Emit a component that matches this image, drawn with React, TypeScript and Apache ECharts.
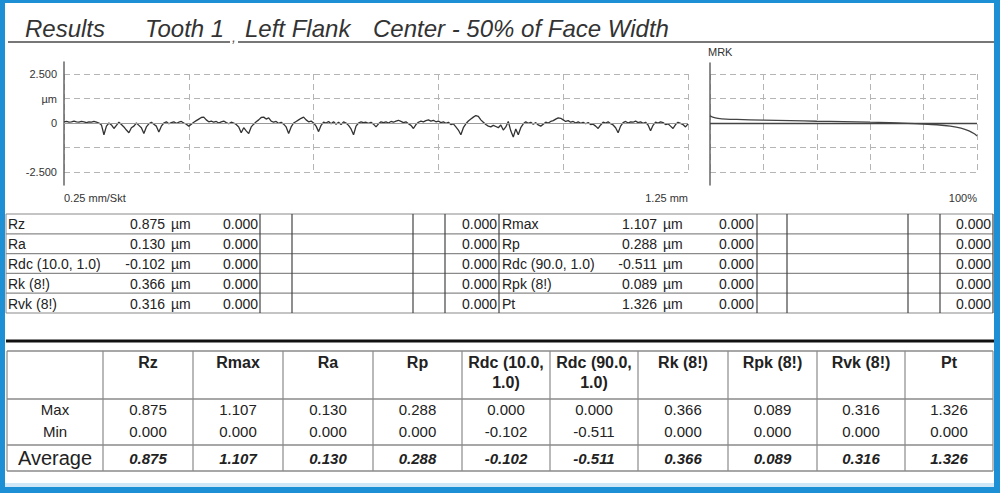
import React, { useEffect, useRef } from "react";
import * as echarts from "echarts";

const FONT = "'Liberation Sans', Arial, sans-serif";

// ---------- Title ----------
const titleParts = ["Results", "Tooth 1", "Left Flank", "Center - 50% of Face Width"];

// ---------- Profile (roughness) ----------
const profileStepMm = 0.005;
const profileUm = [
  0.06, 0.08, 0.04, 0.06, 0.1, 0.06, 0.04, 0.08, 0.06, 0.02, 0.06, 0.04, 0.08, 0.04, 0.0,
  -0.1, -0.6, -0.16, 0.0, -0.1, -0.28, -0.12, 0.04, -0.08, -0.2, -0.36, -0.5, -0.24, -0.16, 0.0,
  -0.12, -0.24, -0.54, -0.2, -0.04, 0.04, -0.06, -0.16, -0.46, -0.16, 0.0, 0.06, -0.04, 0.02, 0.06,
  -0.02, 0.04, 0.08, 0.0, -0.06, -0.16, -0.06, 0.04, 0.12, 0.2, 0.28, 0.3, 0.16, 0.06, 0.1,
  0.04, 0.08, 0.0, 0.06, 0.1, 0.02, -0.04, 0.04, 0.0, -0.08, -0.2, -0.5, -0.24, -0.4, -0.54,
  -0.2, -0.06, 0.06, 0.16, 0.28, 0.3, 0.2, 0.26, 0.1, 0.04, 0.08, -0.02, 0.04, -0.06, -0.2,
  -0.54, -0.2, 0.0, 0.08, 0.16, 0.24, 0.3, 0.16, 0.06, 0.1, 0.0, -0.16, -0.44, -0.12, 0.04,
  0.0, 0.08, -0.04, 0.06, -0.06, 0.04, -0.08, 0.06, 0.0, -0.12, -0.3, -0.6, -0.16, 0.0, 0.06,
  0.02, 0.04, -0.02, 0.04, -0.06, -0.2, -0.04, 0.06, 0.02, 0.06, 0.0, 0.08, 0.04, 0.1, 0.14,
  0.08, 0.02, 0.06, -0.04, -0.12, -0.28, -0.08, 0.04, 0.1, 0.06, 0.12, 0.16, 0.1, 0.14, 0.06,
  0.1, 0.02, 0.06, -0.02, 0.04, -0.08, -0.04, -0.2, -0.36, -0.6, -0.24, -0.04, 0.1, 0.2, 0.3,
  0.38, 0.34, 0.16, 0.04, -0.08, -0.16, -0.2, -0.12, -0.18, -0.24, -0.1, -0.36, -0.2, 0.08, -0.4,
  -0.72, -0.3, -0.6, -0.24, -0.04, 0.06, -0.02, 0.04, -0.06, 0.02, -0.1, -0.16, -0.06, 0.04, 0.0,
  0.08, 0.12, 0.2, 0.26, 0.24, 0.16, 0.08, 0.12, 0.04, 0.08, 0.0, 0.06, -0.02, 0.04, -0.04,
  0.02, -0.08, -0.06, -0.16, -0.28, -0.1, 0.04, 0.0, 0.06, -0.04, -0.1, -0.24, -0.5, -0.16, 0.02,
  0.08, 0.0, 0.06, 0.04, 0.1, 0.02, 0.06, -0.02, 0.04, -0.1, -0.4, -0.12, 0.04, 0.0, 0.06,
  0.02, -0.08, -0.04, -0.16, -0.28, -0.08, 0.04, -0.02, -0.08, -0.2, -0.04,
];
const profileYTickValues = [-2.5, -1.25, 0, 1.25, 2.5];
const profileYTickLabels = ["-2.500", "", "0", "µm", "2.500"];
const profileXTickValues = [0, 1.25];
const profileXTickLabels = ["0.25 mm/Skt", "1.25 mm"];

// ---------- MRK (material ratio curve) ----------
const mrkRatio = [0, 1, 3, 6, 10, 20, 30, 40, 50, 60, 70, 80, 85, 90, 94, 97, 99, 100];
const mrkHeight = [0.36, 0.3, 0.24, 0.2, 0.18, 0.15, 0.12, 0.09, 0.07, 0.04, 0.01, -0.05, -0.09, -0.16, -0.26, -0.4, -0.55, -0.66];
const mrkXTickValues = [100];
const mrkXTickLabels = ["100%"];

// ---------- Upper results table ----------
const unitLabel = "µm";
const leftParams = ["Rz", "Ra", "Rdc (10.0, 1.0)", "Rk (8!)", "Rvk (8!)"];
const leftValues = [0.875, 0.13, -0.102, 0.366, 0.316];
const leftTolA = [0, 0, 0, 0, 0];
const leftTolB = [0, 0, 0, 0, 0];
const rightParams = ["Rmax", "Rp", "Rdc (90.0, 1.0)", "Rpk (8!)", "Pt"];
const rightValues = [1.107, 0.288, -0.511, 0.089, 1.326];
const rightTolA = [0, 0, 0, 0, 0];
const rightTolB = [0, 0, 0, 0, 0];

// ---------- Summary table ----------
const summaryHeaders = ["Rz", "Rmax", "Ra", "Rp", "Rdc (10.0,\n1.0)", "Rdc (90.0,\n1.0)", "Rk (8!)", "Rpk (8!)", "Rvk (8!)", "Pt"];
const summaryRowLabels = ["Max", "Min", "Average"];
const summaryMax = [0.875, 1.107, 0.13, 0.288, 0.0, 0.0, 0.366, 0.089, 0.316, 1.326];
const summaryMin = [0.0, 0.0, 0.0, 0.0, -0.102, -0.511, 0.0, 0.0, 0.0, 0.0];
const summaryAvg = [0.875, 1.107, 0.13, 0.288, -0.102, -0.511, 0.366, 0.089, 0.316, 1.326];

const fmt = (v: number) => v.toFixed(3);

function labelFrom(values: number[], labels: string[]) {
  return (v: number) => {
    const i = values.findIndex((t) => Math.abs(t - v) < 1e-9);
    return i >= 0 ? labels[i] : "";
  };
}

function line(x1: number, y1: number, x2: number, y2: number, stroke: string, lineWidth: number) {
  return { type: "line", silent: true, shape: { x1, y1, x2, y2 }, style: { stroke, lineWidth } };
}
function text(x: number, y: number, t: string, font: string, align = "left", verticalAlign = "middle", fill = "#222", extra: any = {}) {
  return { type: "text", silent: true, x, y, style: { text: t, font, fill, align, verticalAlign, ...extra } };
}

function buildGraphic() {
  const g: any[] = [];
  // border
  const blue = "#1d8fd5";
  g.push({ type: "rect", silent: true, shape: { x: 0, y: 0, width: 5, height: 493 }, style: { fill: blue } });
  g.push({ type: "rect", silent: true, shape: { x: 994, y: 0, width: 6, height: 493 }, style: { fill: blue } });
  g.push({ type: "rect", silent: true, shape: { x: 0, y: 0, width: 1000, height: 3 }, style: { fill: blue } });
  g.push({ type: "rect", silent: true, shape: { x: 0, y: 487, width: 1000, height: 6 }, style: { fill: blue } });
  g.push({ type: "rect", silent: true, shape: { x: 5, y: 483, width: 989, height: 4 }, style: { fill: "#cfe7f7" } });

  // title
  const titleX = [25, 145, 245, 373];
  const tFont = `italic 24px ${FONT}`;
  titleParts.forEach((p, i) => g.push(text(titleX[i], 28, p, tFont, "left", "middle", "#333")));
  g.push(text(232, 37, ",", `italic 14px ${FONT}`, "left", "middle", "#555"));
  g.push(line(8, 42, 230, 42, "#777", 2));
  g.push(line(238, 42, 994, 42, "#777", 2));

  // upper table
  const top = 214;
  const rh = 19.8;
  const f = `14px ${FONT}`;
  for (let k = 0; k <= 5; k++) g.push(line(6, top + k * rh, 993, top + k * rh, "#8a8a8a", 1.2));
  const halves = [
    { names: leftParams, vals: leftValues, ta: leftTolA, tb: leftTolB, nameX: 8, valR: 165, unitX: 171, taR: 258, tbR: 497, vx: [260, 292, 413, 445, 499] },
    { names: rightParams, vals: rightValues, ta: rightTolA, tb: rightTolB, nameX: 502, valR: 657, unitX: 663, taR: 754, tbR: 991, vx: [757, 787, 908, 940, 993] },
  ];
  g.push(line(6, top, 6, top + 5 * rh, "#8a8a8a", 1));
  halves.forEach((h) => {
    h.vx.forEach((x) => g.push(line(x, top, x, top + 5 * rh, "#444", 1.2)));
    h.names.forEach((n, r) => {
      const y = top + rh * r + rh / 2 + 0.5;
      g.push(text(h.nameX, y, n, f));
      g.push(text(h.valR, y, fmt(h.vals[r]), f, "right"));
      g.push(text(h.unitX, y, unitLabel, f));
      g.push(text(h.taR, y, fmt(h.ta[r]), f, "right"));
      g.push(text(h.tbR, y, fmt(h.tb[r]), f, "right"));
    });
  });

  // thick separator
  g.push(line(6, 341, 994, 341, "#111", 3));

  // summary table
  const colX = [7, 103, 193, 283, 373, 462, 550, 638, 728, 817, 905, 993];
  const hy = [351, 399, 445, 471];
  hy.forEach((y) => g.push(line(7, y, 993, y, "#8a8a8a", 1.5)));
  colX.forEach((x) => g.push(line(x, 351, x, 471, "#8a8a8a", 1.2)));
  const hf = `bold 16px ${FONT}`;
  summaryHeaders.forEach((h, i) => {
    const cx = (colX[i + 1] + colX[i + 2]) / 2;
    g.push(text(cx, 352, h, hf, "center", "top", "#222", { lineHeight: 20 }));
  });
  const lx = (colX[0] + colX[1]) / 2;
  const rowY = [409, 431, 458];
  g.push(text(lx, rowY[0], summaryRowLabels[0], `15px ${FONT}`, "center"));
  g.push(text(lx, rowY[1], summaryRowLabels[1], `15px ${FONT}`, "center"));
  g.push(text(lx, rowY[2], summaryRowLabels[2], `20px ${FONT}`, "center"));
  const rows = [summaryMax, summaryMin, summaryAvg];
  rows.forEach((vals, r) => {
    const font = r === 2 ? `italic bold 15px ${FONT}` : `15px ${FONT}`;
    vals.forEach((v, i) => {
      const cx = (colX[i + 1] + colX[i + 2]) / 2;
      g.push(text(cx, rowY[r], fmt(v), font, "center"));
    });
  });
  return g;
}

export default function App() {
  const ref = useRef<HTMLDivElement>(null);
  useEffect(() => {
    if (!ref.current) return;
    const chart = echarts.init(ref.current, undefined, { renderer: "svg" });
    const dash = { color: "#b5b5b5", type: [6, 4] as any, width: 1 };
    const axisLine = { show: true, lineStyle: { color: "#666", width: 1.5 } };
    const profileData = profileUm.map((v, i) => [i * profileStepMm, v]);
    const mrkData = mrkRatio.map((r, i) => [r, mrkHeight[i]]);
    const labelStyle = { color: "#333", fontSize: 11, fontFamily: FONT };
    chart.setOption({
      animation: false,
      backgroundColor: "#fff",
      grid: [
        { left: 64, top: 74, width: 624, height: 98 },
        { left: 64, top: 62, width: 624, height: 123 },
        { left: 710, top: 74, width: 267, height: 98 },
        { left: 710, top: 63, width: 267, height: 122 },
      ],
      xAxis: [
        {
          gridIndex: 0, type: "value", min: 0, max: 1.25, interval: 0.25,
          axisLine: { show: false }, axisTick: { show: false },
          splitLine: { show: true, lineStyle: dash },
          axisLabel: { ...labelStyle, margin: 20, formatter: labelFrom(profileXTickValues, profileXTickLabels), alignMinLabel: "left", alignMaxLabel: "right" },
        },
        { gridIndex: 1, type: "value", min: 0, max: 1.25, show: false },
        {
          gridIndex: 2, type: "value", min: 0, max: 100, interval: 20,
          axisLine: { show: false }, axisTick: { show: false },
          splitLine: { show: true, lineStyle: dash },
          axisLabel: { ...labelStyle, margin: 20, formatter: labelFrom(mrkXTickValues, mrkXTickLabels), alignMaxLabel: "right" },
        },
        { gridIndex: 3, type: "value", min: 0, max: 100, show: false },
      ],
      yAxis: [
        {
          gridIndex: 0, type: "value", min: -2.5, max: 2.5, interval: 1.25,
          axisLine: { show: false }, axisTick: { show: false },
          splitLine: { show: true, lineStyle: dash },
          axisLabel: { ...labelStyle, margin: 7, formatter: labelFrom(profileYTickValues, profileYTickLabels) },
        },
        { gridIndex: 1, type: "value", min: -1, max: 1, axisLine, axisTick: { show: false }, axisLabel: { show: false }, splitLine: { show: false } },
        {
          gridIndex: 2, type: "value", min: -2.5, max: 2.5, interval: 1.25,
          axisLine: { show: false }, axisTick: { show: false },
          splitLine: { show: true, lineStyle: dash },
          axisLabel: { show: false },
        },
        {
          gridIndex: 3, type: "value", min: -1, max: 1, axisLine, axisTick: { show: false }, axisLabel: { show: false }, splitLine: { show: false },
          name: "MRK", nameLocation: "end", nameGap: 11,
          nameTextStyle: { ...labelStyle, align: "left", verticalAlign: "middle", padding: [0, 0, 0, -2] },
        },
      ],
      series: [
        {
          type: "line", xAxisIndex: 0, yAxisIndex: 0, data: profileData, showSymbol: false,
          lineStyle: { color: "#333", width: 1.3 }, z: 3,
          markLine: { silent: true, symbol: "none", label: { show: false }, lineStyle: { color: "#9a9a9a", type: "solid", width: 1 }, data: [{ yAxis: 0 }] },
        },
        {
          type: "line", xAxisIndex: 2, yAxisIndex: 2, data: mrkData, showSymbol: false, smooth: 0.3,
          lineStyle: { color: "#444", width: 1.3 }, z: 3,
          markLine: { silent: true, symbol: "none", label: { show: false }, lineStyle: { color: "#444", type: "solid", width: 1.3 }, data: [{ yAxis: 0 }] },
        },
      ],
      graphic: buildGraphic(),
    });
    return () => chart.dispose();
  }, []);
  return <div ref={ref} style={{ position: "fixed", left: 0, top: 0, width: 1000, height: 493, background: "#fff" }} />;
}
